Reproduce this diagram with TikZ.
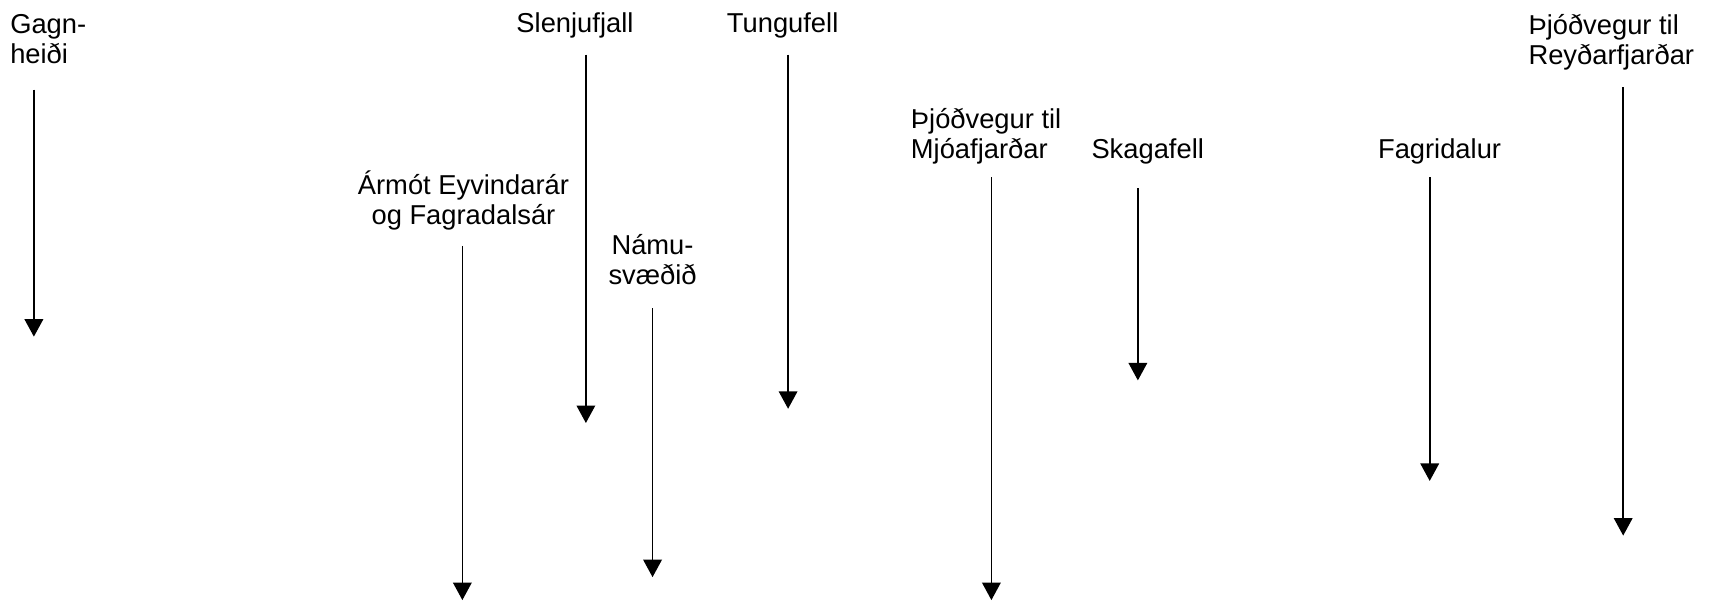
\documentclass[tikz,border=0pt]{standalone}
\usepackage{fontspec}
\setmainfont{Liberation Sans}
\usetikzlibrary{arrows.meta}
\begin{document}
\begin{tikzpicture}[x=0.5pt,y=-0.5pt,
    lbl/.style={inner sep=0pt, font=\fontsize{12.5}{13.75}\selectfont},
    pil/.style={line width=0.75pt, -{Triangle[width=8.5pt,length=8pt]}}]
    \useasboundingbox (0,0) rectangle (1569,550);

    % place names along the road (base = last line)
    \node[lbl, anchor=base west, align=left] (gagn) at (9,58) {Gagn-\\heiði};
    \node[lbl, anchor=base] (slen) at (526,30) {Slenjufjall};
    \node[lbl, anchor=base] (tung) at (716,30) {Tungufell};
    \node[lbl, anchor=base, align=center] (armot) at (424,205) {Ármót Eyvindarár\\og Fagradalsár};
    \node[lbl, anchor=base, align=center] (namu) at (597,260) {Námu-\\svæðið};
    \node[lbl, anchor=base west, align=left] (mjoa) at (833,145) {Þjóðvegur til\\Mjóafjarðar};
    \node[lbl, anchor=base] (skag) at (1050,145) {Skagafell};
    \node[lbl, anchor=base] (fagr) at (1317,145) {Fagridalur};
    \node[lbl, anchor=base west, align=left] (reyd) at (1398,59) {Þjóðvegur til\\Reyðarfjarðar};

    % arrows: name/x/top/tip
    \foreach \n/\x/\a/\b in {gagn/31/82/308, slen/536/50/387, tung/721/50/374,
        armot/423/225/549, namu/597/282/528, mjoa/907/162/549,
        skag/1041/172/348, fagr/1308/162/440, reyd/1485/80/490} {
        \coordinate (\n-a) at (\x,\a);
        \coordinate (\n-b) at (\x,\b);
        \draw[pil] (\n-a) -- (\n-b);
    }
\end{tikzpicture}
\end{document}
